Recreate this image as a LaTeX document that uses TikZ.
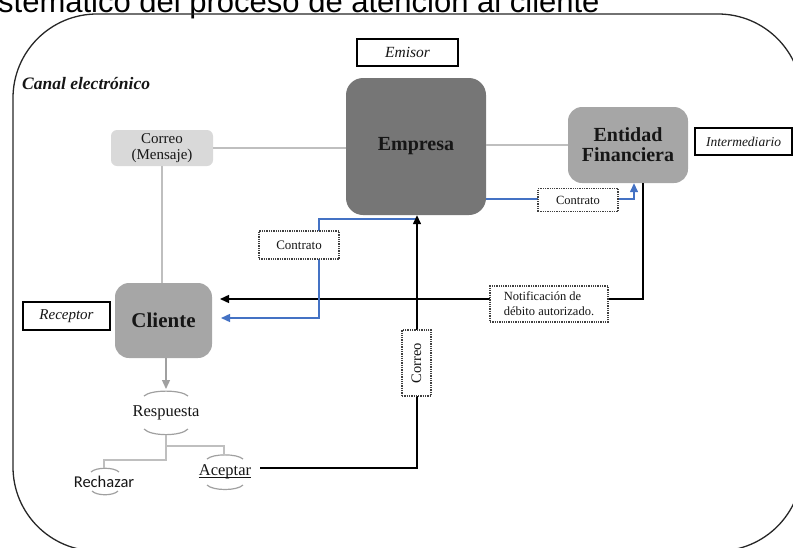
\documentclass[tikz,border=0pt]{standalone}
\usepackage{fontspec}
\setmainfont{Liberation Serif}
\newfontfamily\carlito{Carlito}
\newfontfamily\arialf{Liberation Sans}
\usetikzlibrary{arrows.meta,calc}
\definecolor{empg}{HTML}{767676}
\definecolor{midg}{HTML}{A6A6A6}
\definecolor{lightg}{HTML}{D9D9D9}
\definecolor{lineg}{HTML}{BFBFBF}
\definecolor{arrg}{HTML}{A0A0A0}
\definecolor{blueline}{HTML}{4472C4}
\definecolor{txt}{HTML}{161616}
\definecolor{dotg}{HTML}{404040}
\tikzset{
  labelbox/.style={draw=black, line width=1.2pt, fill=white, inner sep=0pt, text=txt},
  dotbox/.style={draw=dotg, densely dotted, line width=1.3pt, fill=white, inner sep=0pt, text=txt},
  bigbox/.style={rounded corners=#1, inner sep=0pt, text=txt, align=center},
  grayline/.style={draw=lineg, line width=1.3pt},
  blk/.style={draw=black, line width=1.4pt},
  blu/.style={draw=blueline, line width=1.4pt},
  tipb/.style={-{Triangle[length=9pt,width=8pt]}},
  arcline/.style={draw=arrg, line width=1.2pt},
}
\begin{document}
\begin{tikzpicture}[x=1pt,y=-1pt]
\useasboundingbox (0,0) rectangle (793,547);
\clip (0,0) rectangle (793,547);
% header (cut off by the page edge, as in the source)
\node[anchor=base west, inner sep=0pt, font=\arialf\fontsize{31}{31}\selectfont, text=black] (hdr) at (-2,12) {stemático del proceso de atención al cliente};
% outer channel
\draw[line width=1.3pt, draw=black!85, rounded corners=84] (13,14) rectangle (802,551);
\node[anchor=west, inner sep=0pt, font=\bfseries\itshape\fontsize{17.5}{17.5}\selectfont, text=txt] (canal) at (22,84) {Canal electrónico};

% main boxes
\node[bigbox=17, fill=empg, minimum width=140pt, minimum height=137pt, font=\bfseries\fontsize{20}{20}\selectfont] (empresa) at (416,146.5) {Empresa};
\node[bigbox=14, fill=midg, minimum width=120pt, minimum height=76pt, font=\bfseries\fontsize{20}{20}\selectfont] (entidad) at (628,145) {Entidad\\Financiera};
\node[bigbox=6, fill=lightg, minimum width=102pt, minimum height=36pt, font=\fontsize{15}{16}\selectfont] (correo) at (162,148) {Correo\\(Mensaje)};
\node[bigbox=14, fill=midg, minimum width=97pt, minimum height=75pt, font=\bfseries\fontsize{21}{21}\selectfont] (cliente) at (163.5,320.5) {Cliente};

% role labels
\node[labelbox, minimum width=101pt, minimum height=27pt, font=\itshape\fontsize{15.5}{15.5}\selectfont] (emisor) at (407.5,52.5) {Emisor};
\node[labelbox, minimum width=97pt, minimum height=27pt, font=\itshape\fontsize{13.5}{13.5}\selectfont] (interm) at (743.5,141.5) {Intermediario};
\node[labelbox, minimum width=87pt, minimum height=28pt, font=\itshape\fontsize{15}{15}\selectfont] (receptor) at (66.5,316) {Receptor};

% gray connectors
\draw[grayline] (correo.east) -- (correo.east -| empresa.west);
\draw[grayline] (empresa.east |- entidad.west) -- (entidad.west);
\draw[grayline] (correo.south) -- (correo.south |- cliente.north);
\coordinate (resptop) at (166,389);
\draw[draw=arrg, line width=1.3pt, -{Triangle[length=9pt,width=8pt]}] (cliente.south -| resptop) -- (resptop);

% black notification arrow
\coordinate (nfcorner) at (643,299);
\coordinate (nfend) at (220,299);
\draw[blk, tipb] (entidad.south -| nfcorner) -- (nfcorner) -- (nfend);
% blue contract lines
\coordinate (bl1) at (417,219);
\coordinate (bl2) at (319,219);
\coordinate (bl3) at (319,318);
\coordinate (bl4) at (221,318);
\draw[blu, -{Triangle[length=9pt,width=8pt]}] (bl1) -- (bl2) -- (bl3) -- (bl4);
\coordinate (br1) at (486,199);
\coordinate (br2) at (634,199);
\draw[blu, -{Triangle[length=9pt,width=8pt]}] (br1) -- (br2) -- (br2 |- entidad.south);

% respuesta tree
\node[inner sep=0pt, font=\fontsize{16.5}{16.5}\selectfont, text=txt] (resp) at (166,413) {Respuesta};
\node[inner sep=0pt, font=\carlito\fontsize{16.5}{16.5}\selectfont, text=txt] (rech) at (104,482) {Rechazar};
\node[inner sep=0pt, font=\fontsize{16.5}{16.5}\selectfont, text=txt] (acep) at (225,472) {Aceptar};
\draw[draw=txt, line width=0.9pt] ($(acep.base west)+(0,2)$) -- ($(acep.base east)+(0,2)$);
\draw[arcline] (144,396) .. controls (151,389.5) and (181,389.5) .. (188,396);
\draw[arcline] (144,429) .. controls (151,436.5) and (181,436.5) .. (188,429);
\draw[arcline] (91,472) .. controls (96,467) and (114,467) .. (119,472);
\draw[arcline] (92,491) .. controls (97,496) and (113,496) .. (118,491);
\draw[arcline] (207,459) .. controls (213,453.5) and (237,453.5) .. (243,459);
\draw[arcline] (207,485) .. controls (213,491) and (237,491) .. (243,485);
\coordinate (tA) at (166,435);
\coordinate (tB) at (166,460);
\coordinate (tC) at (104,460);
\coordinate (tD) at (104,468);
\coordinate (tE) at (166,446);
\coordinate (tF) at (224,446);
\coordinate (tG) at (224,455);
\draw[grayline] (tA) -- (tB) -- (tC) -- (tD);
\draw[grayline] (tE) -- (tF) -- (tG);

% correo arrow from Aceptar to Empresa
\coordinate (acc) at (417,468);
\draw[blk, tipb] (acep.east |- acc) ++(9,0) -- (acc) -- (acc |- empresa.south);

% dotted label boxes
\node[dotbox, minimum width=80pt, minimum height=28pt, font=\fontsize{13}{13}\selectfont] (contr1) at (299,245) {Contrato};
\node[dotbox, minimum width=80pt, minimum height=23pt, font=\fontsize{12.5}{12.5}\selectfont] (contr2) at (578,200) {Contrato};
\node[dotbox, minimum width=118pt, minimum height=36pt, font=\fontsize{12.5}{15}\selectfont, align=left] (notif) at (549,304) {Notificación de\\débito autorizado.};
\node[dotbox, minimum width=29pt, minimum height=66pt] (correov) at (416.5,363) {\rotatebox{90}{\fontsize{14.5}{14.5}\selectfont Correo}};
\end{tikzpicture}
\end{document}
